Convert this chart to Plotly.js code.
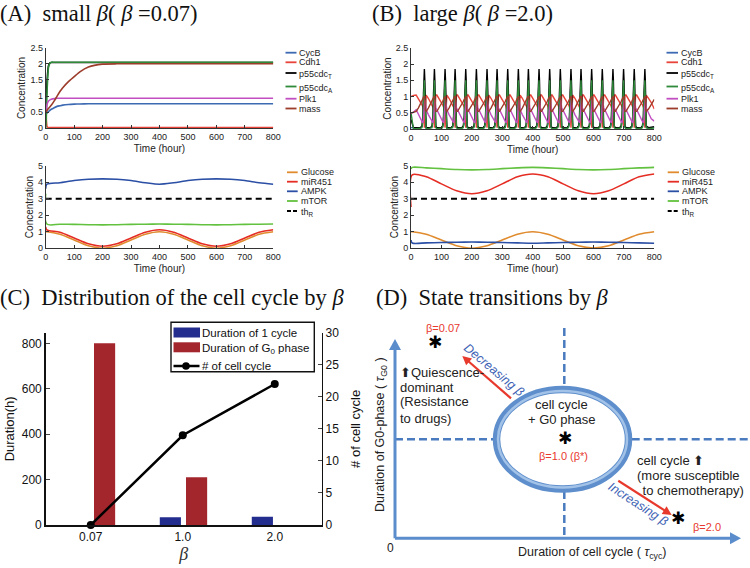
<!DOCTYPE html>
<html><head><meta charset="utf-8">
<script src="https://cdn.plot.ly/plotly-3.0.1.min.js"></script>
<style>html,body{margin:0;padding:0;background:#fff}#chart{width:750px;height:568px}</style>
</head><body><div id="chart"></div>
<script>
// ================= DATA =================
// Panel A (top): cell-cycle variables, beta = 0.07
const aTopTime = [0,2,5,10,15,20,30,40,50,60,80,100,120,150,200,250,300,400,500,600,700,800];
const aCycB  = [0.42,0.45,0.48,0.52,0.56,0.59,0.64,0.68,0.70,0.72,0.74,0.75,0.755,0.76,0.76,0.76,0.76,0.76,0.76,0.76,0.76,0.76];
const aCdh1  = [1.0,0.3,0.05,0.02,0.02,0.02,0.02,0.02,0.02,0.02,0.02,0.02,0.02,0.02,0.02,0.02,0.02,0.02,0.02,0.02,0.02,0.02];
const aP55T  = [1.0,0.9,1.5,1.95,2.03,2.04,2.04,2.04,2.04,2.04,2.04,2.04,2.04,2.04,2.04,2.04,2.04,2.04,2.04,2.04,2.04,2.04];
const aP55A  = [0.0,0.3,1.2,1.9,2.02,2.05,2.05,2.05,2.05,2.05,2.05,2.05,2.05,2.05,2.05,2.05,2.05,2.05,2.05,2.05,2.05,2.05];
const aPlk1  = [0.5,0.6,0.75,0.85,0.88,0.9,0.92,0.93,0.93,0.93,0.93,0.93,0.93,0.93,0.93,0.93,0.93,0.93,0.93,0.93,0.93,0.93];
const aMass  = [0.5,0.52,0.56,0.62,0.67,0.72,0.85,1.0,1.14,1.26,1.45,1.6,1.75,1.9,1.99,2.0,2.0,2.0,2.0,2.0,2.0,2.0];

// Panel A (bottom): signalling variables, beta = 0.07
const aBotTime  = [0,4,50,100,150,200,250,300,350,400,450,500,550,600,650,700,750,800];
const aGlucose  = [1.0,1.0,0.85,0.5,0.15,0.0,0.15,0.5,0.85,1.0,0.85,0.5,0.15,0.0,0.15,0.5,0.85,1.0];
const aMiR451   = [1.3,1.12,0.97,0.62,0.27,0.12,0.27,0.62,0.97,1.12,0.97,0.62,0.27,0.12,0.27,0.62,0.97,1.12];
const aAMPK     = [3.6,3.88,3.97,4.1,4.18,4.2,4.18,4.1,3.97,3.88,3.97,4.1,4.18,4.2,4.18,4.1,3.97,3.88];
const aMTOR     = [3.3,1.47,1.46,1.45,1.43,1.42,1.43,1.45,1.46,1.47,1.46,1.45,1.43,1.42,1.43,1.45,1.46,1.47];
const thrTime   = [0,800];
const thrValue  = [3,3];

// Panel B (top): oscillating cell cycle, beta = 2.0
// spike (peak) times read off the picture, and one cycle's waveform around each spike
const bSpikeTimes = [44,77,112,145,180,215,250,283,318,353,386,421,456,491,526,559,594,629,664,699,734,769];
const bPhase      = [-27,-20,-12,-8,-5,-3,-1.5,0,1.5,3,4.5];
const bWaveCycB   = [0.04,0.04,0.05,0.08,0.2,0.5,0.75,0.85,0.6,0.25,0.06];
const bWaveCdh1   = [1.05,0.95,0.82,0.75,0.68,0.6,0.35,0.05,0.3,0.8,1.05];
const bWaveP55T   = [0.05,0.05,0.06,0.1,0.4,1.1,1.6,1.85,1.5,0.6,0.1];
const bWaveP55A   = [0.02,0.02,0.03,0.05,0.3,0.9,1.4,1.5,0.9,0.3,0.05];
const bWavePlk1   = [0.6,0.45,0.3,0.24,0.2,0.3,0.55,0.8,0.9,0.8,0.65];
const bWaveMass   = [0.55,0.65,0.78,0.85,0.92,0.97,1.0,1.02,1.02,0.6,0.55];
const bInitTime   = [0,8];
const bInitCycB   = [0.05,0.04];
const bInitCdh1   = [1.0,1.04];
const bInitP55T   = [0.3,0.05];
const bInitP55A   = [0.5,0.02];
const bInitPlk1   = [0.5,0.52];
const bInitMass   = [0.5,0.52];
const bTailTime   = [781,790,800];
const bTailCycB   = [0.04,0.05,0.06];
const bTailCdh1   = [0.95,0.82,0.62];
const bTailP55T   = [0.05,0.06,0.08];
const bTailP55A   = [0.02,0.03,0.04];
const bTailPlk1   = [0.5,0.32,0.25];
const bTailMass   = [0.62,0.76,0.92];

// Panel B (bottom): signalling variables, beta = 2.0
const bBotTime  = [0,4,50,100,150,200,250,300,350,400,450,500,550,600,650,700,750,800];
const bGlucose  = [1.0,1.0,0.85,0.5,0.15,0.0,0.15,0.5,0.85,1.0,0.85,0.5,0.15,0.02,0.15,0.5,0.85,1.0];
const bMiR451   = [2.5,4.45,4.33,3.9,3.48,3.3,3.48,3.9,4.33,4.5,4.33,3.9,3.48,3.3,3.48,3.9,4.33,4.5];
const bAMPK     = [0.5,0.32,0.33,0.35,0.37,0.38,0.37,0.35,0.33,0.31,0.33,0.35,0.37,0.38,0.37,0.35,0.33,0.31];
const bMTOR     = [4.8,4.9,4.87,4.82,4.77,4.75,4.77,4.82,4.87,4.9,4.87,4.82,4.77,4.75,4.77,4.82,4.87,4.9];

// Panel C
const cCategories    = ['0.07','1.0','2.0'];
const cCycleDuration = [0,34,36];
const cG0Duration    = [800,210,0];
const cNumCycles     = [0,14,22];
const cSeriesNames   = ['Duration of 1 cycle','Duration of G<sub>0</sub> phase','# of cell cycle'];

// Panel D (schematic: x = duration of cell cycle, y = duration of G0 phase)
const dX = [1.16,4.93,8.21];
const dY = [9.76,4.93,0.95];

// Labels
const cellNames   = ['CycB','Cdh1','p55cdc<sub>T</sub>','p55cdc<sub>A</sub>','Plk1','mass'];
const signalNames = ['Glucose','miR451','AMPK','mTOR','th<sub>R</sub>'];

// ================= STYLE HELPERS =================
const W = 750, H = 568;
const px = x => x / W;
const py = y => 1 - y / H;
const FONT = 'Liberation Sans, Arial, sans-serif';
const SERIF = 'Liberation Serif, DejaVu Serif, serif';
const cellColors = ['#3d6ab3','#e8443a','#000000','#2f8a3a','#c14fc1','#9c3c2a'];
const sigColors  = ['#e08b2e','#e52d24','#2b4fa5','#62c13e','#000000'];
const cColors    = ['#232d8e','#a3262c','#000000'];

function tile(init, wave, tail) {
  const xs = bInitTime.slice(), ys = init.slice();
  bSpikeTimes.forEach(s => { bPhase.forEach((p, i) => { xs.push(s + p); ys.push(wave[i]); }); });
  bTailTime.forEach((t, i) => { xs.push(t); ys.push(tail[i]); });
  return {x: xs, y: ys};
}

const traces = [];
// A top
[aCycB,aCdh1,aP55T,aP55A,aPlk1,aMass].forEach((v,i)=>traces.push({
  x:aTopTime, y:v, mode:'lines', name:cellNames[i], showlegend:false, xaxis:'x', yaxis:'y',
  line:{color:cellColors[i], width:1.6, shape:'spline', smoothing:0.5}}));
// A bottom
[aGlucose,aMiR451,aAMPK,aMTOR].forEach((v,i)=>traces.push({
  x:aBotTime, y:v, mode:'lines', name:signalNames[i], showlegend:false, xaxis:'x2', yaxis:'y2',
  line:{color:sigColors[i], width:1.6, shape:'spline', smoothing:0.8}}));
traces.push({x:thrTime, y:thrValue, mode:'lines', name:signalNames[4], showlegend:false, xaxis:'x2', yaxis:'y2',
  line:{color:'#000', width:1.8, dash:'6px,4px'}});
// B top
const bSets = [[bInitCycB,bWaveCycB,bTailCycB],[bInitCdh1,bWaveCdh1,bTailCdh1],[bInitP55T,bWaveP55T,bTailP55T],
               [bInitP55A,bWaveP55A,bTailP55A],[bInitPlk1,bWavePlk1,bTailPlk1],[bInitMass,bWaveMass,bTailMass]];
bSets.forEach((s,i)=>{ const d = tile(s[0],s[1],s[2]); traces.push({
  x:d.x, y:d.y, mode:'lines', name:cellNames[i], showlegend:false, xaxis:'x3', yaxis:'y3',
  line:{color:cellColors[i], width:1.4}}); });
// B bottom
[bGlucose,bMiR451,bAMPK,bMTOR].forEach((v,i)=>traces.push({
  x:bBotTime, y:v, mode:'lines', name:signalNames[i], showlegend:false, xaxis:'x4', yaxis:'y4',
  line:{color:sigColors[i], width:1.6, shape:'spline', smoothing:0.8}}));
traces.push({x:thrTime, y:thrValue, mode:'lines', name:signalNames[4], showlegend:false, xaxis:'x4', yaxis:'y4',
  line:{color:'#000', width:1.8, dash:'6px,4px'}});
// C
traces.push({type:'bar', x:cCategories, y:cCycleDuration, name:cSeriesNames[0], xaxis:'x5', yaxis:'y5',
  marker:{color:cColors[0]}, width:0.23, offset:-0.25, showlegend:false});
traces.push({type:'bar', x:cCategories, y:cG0Duration, name:cSeriesNames[1], xaxis:'x5', yaxis:'y5',
  marker:{color:cColors[1]}, width:0.23, offset:0.035, showlegend:false});
traces.push({type:'scatter', x:cCategories, y:cNumCycles, name:cSeriesNames[2], xaxis:'x5', yaxis:'y6',
  mode:'lines+markers', line:{color:cColors[2], width:2.5}, marker:{color:cColors[2], size:8}, cliponaxis:false, showlegend:false});
// D asterisks
traces.push({type:'scatter', x:dX, y:dY, mode:'text', text:dX.map(()=>'✱'), xaxis:'x7', yaxis:'y7',
  showlegend:false, textfont:{size:17, color:'#000', family:'DejaVu Sans'}, cliponaxis:false});

// ================= LAYOUT =================
const tickF = {size:9, family:FONT, color:'#222'};
function lineAxisX(dom, anchor, title) {
  return {domain:dom, anchor:anchor, range:[0,800], dtick:100, ticks:'inside', ticklen:3, tickcolor:'#333',
    showline:true, linecolor:'#333', linewidth:1, showgrid:false, zeroline:false, tickfont:tickF,
    title:{text:title, font:{size:10, family:FONT, color:'#222'}, standoff:3}};
}
function lineAxisY(dom, anchor, range, dtick) {
  return {domain:dom, anchor:anchor, range:range, dtick:dtick, ticks:'inside', ticklen:3, tickcolor:'#333',
    showline:true, linecolor:'#333', linewidth:1, showgrid:false, zeroline:false, tickfont:tickF,
    title:{text:'Concentration', font:{size:10, family:FONT, color:'#222'}, standoff:2}};
}

const shapes = [], annotations = [];
function manualLegend(names, colors, x0, x1, xt, ys, dashLast) {
  names.forEach((n,i)=>{
    const off = n.indexOf('<sub>') >= 0 ? 1.5 : 0;
    shapes.push({type:'line', xref:'paper', yref:'paper', x0:px(x0), x1:px(x1), y0:py(ys[i]), y1:py(ys[i]),
      line:{color:colors[i], width:1.8, dash:(dashLast && i===names.length-1)?'4px,2px':'solid'}});
    annotations.push({xref:'paper', yref:'paper', x:px(xt), y:py(ys[i]+off), xanchor:'left', yanchor:'middle',
      text:n, showarrow:false, font:{size:9, family:FONT, color:'#222'}});
  });
}
const topYs = [52.7,62.3,73,86.5,98.7,108.5];
const botYs = [172.3,181.7,191.3,201,211];
manualLegend(cellNames, cellColors, 285.5, 296.5, 297, topYs, false);
manualLegend(cellNames, cellColors, 666.5, 678, 679, topYs, false);
manualLegend(signalNames, sigColors, 287, 297.7, 298.5, botYs, true);
manualLegend(signalNames, sigColors, 667.7, 679, 680, botYs, true);

// Panel C legend (boxed)
function rectPx(x0,y0,x1,y1,fill,lineColor,lw){ shapes.push({type:'rect', xref:'paper', yref:'paper', layer:'above',
  x0:px(x0), x1:px(x1), y0:py(y1), y1:py(y0), fillcolor:fill, line:{color:lineColor, width:lw}}); }
rectPx(171,322.3,314.3,371.7,'#ffffff','#111',1.4);
rectPx(173.5,327.5,200,337.5,cColors[0],cColors[0],0);
rectPx(173.5,342.3,200,352.3,cColors[1],cColors[1],0);
shapes.push({type:'line', xref:'paper', yref:'paper', layer:'above', x0:px(173.5), x1:px(199.5), y0:py(366), y1:py(366),
  line:{color:cColors[2], width:2.5}});
shapes.push({type:'circle', xref:'paper', yref:'paper', layer:'above', x0:px(182.2), x1:px(189.8), y0:py(369.8), y1:py(362.2),
  fillcolor:cColors[2], line:{color:cColors[2], width:0}});
[332.5,347.3,366].forEach((y,i)=>annotations.push({xref:'paper', yref:'paper', x:px(200.5), y:py(y + (i===1?1.5:0)),
  xanchor:'left', yanchor:'middle', showarrow:false, text:cSeriesNames[i], font:{size:11.5, family:FONT, color:'#111'}}));

// Panel titles
function ptitle(text, x, y) {
  annotations.push({xref:'paper', yref:'paper', x:px(x), y:py(y), xanchor:'left', yanchor:'middle', showarrow:false,
    text:text, font:{size:22.5, family:SERIF, color:'#111'}});
}
ptitle('(A)  small <i>β</i>( <i>β</i> =0.07)', -2, 14);
ptitle('(B)  large <i>β</i>( <i>β</i> =2.0)', 370, 14);
ptitle('(C)  Distribution of the cell cycle by <i>β</i>', -2, 297);
ptitle('(D)  State transitions by <i>β</i>', 374, 297);

// Panel D decorations
const blueAx = '#5b8dcc', dashBlue = '#4a7bbf', red = '#e8392d', tBlue = '#3d62b4';
function dline(x0,y0,x1,y1){ shapes.push({type:'line', xref:'paper', yref:'paper', x0:px(x0), y0:py(y0), x1:px(x1), y1:py(y1),
  line:{color:dashBlue, width:2.5, dash:'8px,4px'}}); }
dline(564.3,328,564.3,386.7);
dline(564.3,491,564.3,538.3);
dline(395,439.3,493.3,439.3);
dline(631.7,439.3,750,439.3);
shapes.push({type:'circle', xref:'paper', yref:'paper', x0:px(496.5), x1:px(628.5), y0:py(489), y1:py(389.5),
  line:{color:'#5e8fcc', width:7.5}});
shapes.push({type:'circle', xref:'paper', yref:'paper', x0:px(498), x1:px(627), y0:py(487.5), y1:py(391),
  line:{color:'#a3c2e8', width:2.5}});
function arrow(hx,hy,tx,ty,color,w,L,hw){
  const dx = hx-tx, dy = hy-ty, len = Math.hypot(dx,dy), ux = dx/len, uy = dy/len, nx = -uy, ny = ux;
  const bx = hx-ux*L, by = hy-uy*L;
  shapes.push({type:'line', xref:'paper', yref:'paper', x0:px(tx), y0:py(ty), x1:px(bx+ux*1), y1:py(by+uy*1),
    line:{color:color, width:w}});
  const pts = [[hx,hy],[bx+nx*hw,by+ny*hw],[bx-nx*hw,by-ny*hw]];
  shapes.push({type:'path', xref:'paper', yref:'paper', fillcolor:color, line:{color:color, width:0},
    path:'M'+pts.map(p=>px(p[0])+','+py(p[1])).join(' L')+' Z'});
}
arrow(395,339,395,538.3,blueAx,3,11,6);
arrow(741,538.3,395,538.3,blueAx,3,11,6);
arrow(462.3,356,511,398.3,red,2.2,9,4.5);
arrow(671.7,515,618.3,480.7,red,2.2,9,4.5);
function dtext(t,x,y,opt){ annotations.push(Object.assign({xref:'paper', yref:'paper', x:px(x), y:py(y), showarrow:false,
  text:t, xanchor:'left', yanchor:'middle', font:{size:13, family:FONT, color:'#222'}}, opt||{})); }
const redF = {size:11, family:FONT, color:red};
dtext('β=0.07',443,328,{xanchor:'center', font:redF});
dtext('β=1.0 (β*)',563,456,{xanchor:'center', font:redF});
dtext('β=2.0',706.7,526.7,{xanchor:'center', font:redF});
dtext('⬆Quiescence-',398,372);
dtext('dominant',398,387);
dtext('(Resistance',398,402);
dtext('to drugs)',398,418);
dtext('cell cycle',561.7,404.3,{xanchor:'center'});
dtext('+ G0 phase',561.7,419.3,{xanchor:'center'});
dtext('cell cycle ⬆',635,460);
dtext('(more susceptible',635,475);
dtext(' to chemotherapy)',637,490);
dtext('<i>Decreasing β</i>',494,370,{xanchor:'center', textangle:40, font:{size:12.5, family:FONT, color:tBlue}});
dtext('<i>Increasing β</i>',638,504,{xanchor:'center', textangle:33, font:{size:12.5, family:FONT, color:tBlue}});
dtext('0',390,548,{xanchor:'center', font:{size:12, family:FONT, color:'#222'}});
dtext('Duration of cell cycle ( <i>τ</i><sub>cyc</sub>)',591.7,553.3,{xanchor:'center', font:{size:12.5, family:FONT, color:'#222'}});
dtext('Duration of G0-phase ( <i>τ</i><sub>G0</sub> )',381,435,{xanchor:'center', textangle:-90, font:{size:12.5, family:FONT, color:'#222'}});

const cTick = {size:12, family:FONT, color:'#111'};
const layout = {
  width:W, height:H, margin:{l:0,r:0,t:0,b:0}, paper_bgcolor:'#fff', plot_bgcolor:'rgba(0,0,0,0)',
  showlegend:false, barmode:'overlay', font:{family:FONT},
  xaxis: lineAxisX([px(45.7),px(273.3)],'y','Time (hour)'),
  yaxis: lineAxisY([py(128.3),py(47.7)],'x',[0,2.5],0.5),
  xaxis2: lineAxisX([px(45.7),px(273.3)],'y2','Time (hour)'),
  yaxis2: lineAxisY([py(248.3),py(165.7)],'x2',[0,5],1),
  xaxis3: lineAxisX([px(411),px(654.3)],'y3','Time (hour)'),
  yaxis3: lineAxisY([py(129.3),py(47.7)],'x3',[0,2.5],0.5),
  xaxis4: lineAxisX([px(411),px(654.3)],'y4','Time (hour)'),
  yaxis4: lineAxisY([py(248.3),py(165.7)],'x4',[0,5],1),
  xaxis5: {domain:[px(45.7),px(321.7)], anchor:'y5', type:'category', range:[-0.49,2.51], showline:true,
    linecolor:'#111', linewidth:1.5, ticks:'', showgrid:false, zeroline:false, tickfont:cTick,
    title:{text:'<i>β</i>', font:{size:18, family:SERIF, color:'#333'}, standoff:4}},
  yaxis5: {domain:[py(525),py(332.7)], anchor:'x5', range:[0,847], tickvals:[0,200,400,600,800], ticks:'inside',
    ticklen:4, showline:true, linecolor:'#111', linewidth:1.5, showgrid:false, zeroline:false, tickfont:cTick,
    title:{text:'Duration(h)', font:{size:13, family:FONT, color:'#111'}, standoff:4}},
  yaxis6: {overlaying:'y5', anchor:'x5', side:'right', range:[0,30], dtick:5, ticks:'inside', ticklen:4,
    showline:true, linecolor:'#111', linewidth:1.5, showgrid:false, zeroline:false, tickfont:cTick,
    title:{text:'# of cell cycle', font:{size:13, family:FONT, color:'#111'}, standoff:12}},
  xaxis7: {domain:[0.5,1], anchor:'y7', range:[-0.58,10.29], visible:false},
  yaxis7: {domain:[0,py(300)], anchor:'x7', range:[-1.49,11.96], visible:false},
  shapes: shapes, annotations: annotations
};
Plotly.newPlot('chart', traces, layout, {displayModeBar:false, staticPlot:true});
</script></body></html>
